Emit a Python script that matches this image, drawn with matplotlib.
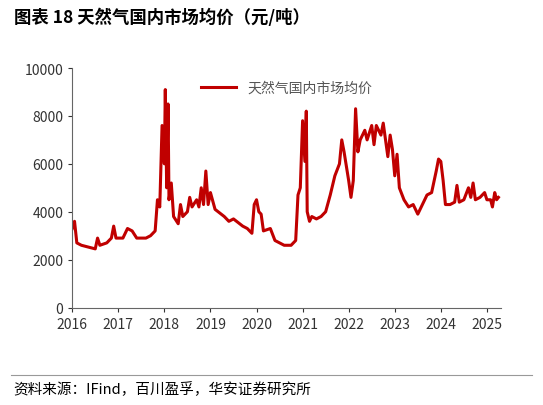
import matplotlib
matplotlib.use("Agg")
import matplotlib.pyplot as plt
import numpy as np

plt.rcParams['font.family'] = ['Noto Sans CJK SC', 'DejaVu Sans']

years = [2016.0, 2016.05, 2016.1, 2016.2, 2016.4, 2016.5, 2016.55, 2016.6, 2016.75, 2016.85, 2016.9, 2016.95,
         2017.1, 2017.2, 2017.3, 2017.4, 2017.6, 2017.7, 2017.8, 2017.85, 2017.9, 2017.95, 2018.0, 2018.02,
         2018.05, 2018.08, 2018.1, 2018.15, 2018.2, 2018.3, 2018.35, 2018.4, 2018.5, 2018.55, 2018.6, 2018.7,
         2018.75, 2018.8, 2018.85, 2018.9, 2018.95, 2019.0, 2019.1, 2019.3, 2019.4, 2019.5, 2019.7, 2019.8,
         2019.9, 2019.95, 2020.0, 2020.05, 2020.1, 2020.15, 2020.3, 2020.4, 2020.6, 2020.75, 2020.85, 2020.9,
         2020.95, 2021.0, 2021.05, 2021.08, 2021.1, 2021.15, 2021.2, 2021.3, 2021.4, 2021.5, 2021.6, 2021.7,
         2021.8, 2021.85, 2021.9, 2022.0, 2022.05, 2022.1, 2022.15, 2022.2, 2022.25, 2022.35, 2022.4, 2022.5,
         2022.55, 2022.6, 2022.7, 2022.75, 2022.8, 2022.85, 2022.9, 2022.95, 2023.0, 2023.05, 2023.1, 2023.2,
         2023.3, 2023.4, 2023.5, 2023.6, 2023.7, 2023.8, 2023.9, 2023.95, 2024.0, 2024.05, 2024.1, 2024.2,
         2024.3, 2024.35, 2024.4, 2024.5, 2024.6, 2024.65, 2024.7, 2024.75, 2024.85, 2024.95, 2025.0, 2025.08,
         2025.12, 2025.17, 2025.21, 2025.25]
prices = [3300, 3600, 2700, 2600, 2500, 2450, 2900, 2600, 2700, 2900, 3400, 2900,
          2900, 3300, 3200, 2900, 2900, 3000, 3200, 4500, 4200, 7600, 6000, 9100,
          5000, 8500, 4500, 5200, 3800, 3500, 4300, 3800, 4000, 4600, 4200, 4500,
          4200, 5000, 4300, 5700, 4300, 4800, 4100, 3800, 3600, 3700, 3400, 3300,
          3100, 4300, 4500, 4000, 3900, 3200, 3300, 2800, 2600, 2600, 2800, 4700,
          5000, 7800, 6100, 8200, 4000, 3600, 3800, 3700, 3800, 4000, 4700, 5500,
          6000, 7000, 6500, 5300, 4600, 5300, 8300, 6500, 7000, 7400, 7000, 7600,
          6800, 7600, 7200, 7700, 7000, 6300, 7200, 6600, 5500, 6400, 5000, 4500,
          4200, 4300, 3900, 4300, 4700, 4800, 5700, 6200, 6100, 5300, 4300, 4300,
          4400, 5100, 4400, 4500, 5000, 4600, 5200, 4500, 4600, 4800, 4500, 4500,
          4200, 4800, 4500, 4600]

fig = plt.figure(figsize=(5.43, 4.06), dpi=100)
ax = fig.add_axes([0.133, 0.24, 0.79, 0.59])
ax.plot(years, prices, color='#C00000', lw=2.2, label='天然气国内市场均价')
ax.set_xlim(2016, 2025.31)
ax.set_ylim(0, 10000)
ax.set_xticks(range(2016, 2026))
ax.set_yticks(range(0, 10001, 2000))
ax.tick_params(labelsize=10, colors='#333333', direction='out', length=3)
for s in ['top', 'right']:
    ax.spines[s].set_visible(False)
ax.spines['left'].set_color('#666666')
ax.spines['bottom'].set_color('#666666')
ax.legend(loc='upper center', bbox_to_anchor=(0.5, 1.0), frameon=False, fontsize=10, handlelength=2.5,
          labelcolor='#555555')

fig.text(0.025, 0.955, '图表 18 天然气国内市场均价（元/吨）', fontsize=12.5, fontweight='bold', va='center')
fig.add_artist(plt.Line2D([0.02, 0.98], [0.075, 0.075], color='#999999', lw=0.8))
fig.text(0.025, 0.04, '资料来源：IFind，百川盈孚，华安证券研究所', fontsize=10.5, va='center')

fig.savefig('out.png', dpi=100)
